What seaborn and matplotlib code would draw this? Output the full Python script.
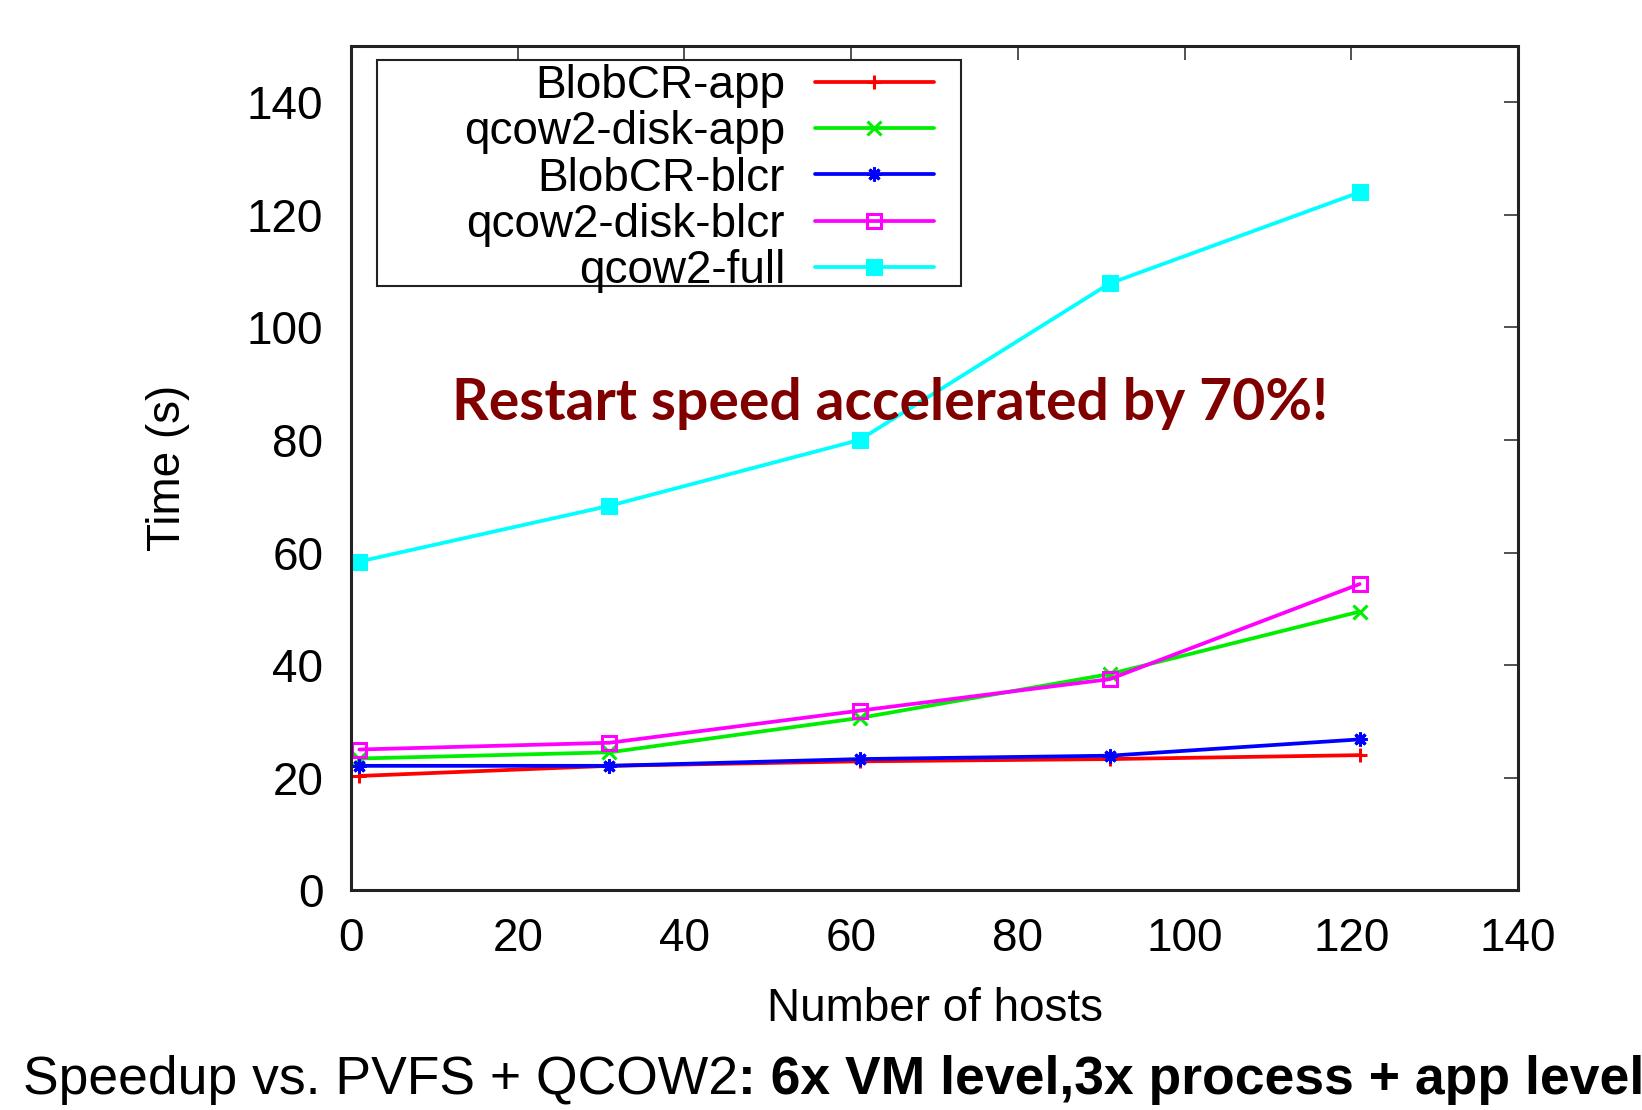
import matplotlib
matplotlib.use("Agg")
import matplotlib.pyplot as plt
from matplotlib.patches import Rectangle
import seaborn as sns

sns.set_style("white")
plt.rcParams['font.family'] = ['Liberation Sans', 'DejaVu Sans']
plt.rcParams['text.color'] = 'black'
plt.rcParams['axes.labelcolor'] = 'black'
plt.rcParams['xtick.color'] = 'black'
plt.rcParams['ytick.color'] = 'black'

hosts = [1, 31, 61, 91, 121]
blobcr_app = [20.3, 22.1, 22.9, 23.3, 24.0]
qcow2_disk_app = [23.4, 24.5, 30.6, 38.4, 49.5]
blobcr_blcr = [22.1, 22.1, 23.3, 23.9, 26.8]
qcow2_disk_blcr = [25.0, 26.2, 31.9, 37.5, 54.4]
qcow2_full = [58.4, 68.3, 80.0, 107.8, 124.0]

series = [
    ("BlobCR-app", blobcr_app, "#ff0000", "+", "#ff0000"),
    ("qcow2-disk-app", qcow2_disk_app, "#00ee00", "x", "#00ee00"),
    ("BlobCR-blcr", blobcr_blcr, "#0000ff", (8, 2, 0), "#0000ff"),
    ("qcow2-disk-blcr", qcow2_disk_blcr, "#ff00ff", "s", "none"),
    ("qcow2-full", qcow2_full, "#00ffff", "s", "#00ffff"),
]

fig = plt.figure(figsize=(16.42, 11.10), dpi=100)
ax = fig.add_axes([0.2138, 0.198, 0.7107, 0.7606])

for name, vals, col, mk, fc in series:
    sns.lineplot(x=hosts, y=vals, ax=ax, color=col, linewidth=2.7, marker=mk,
                 markersize=10, markerfacecolor=fc, markeredgecolor=col,
                 markeredgewidth=2.2, label=name, legend=False)

ax.set_xlim(0, 140)
ax.set_ylim(0, 150)
ax.set_xticks(range(0, 141, 20))
ax.set_yticks(range(0, 141, 20))
ax.tick_params(direction='in', top=True, right=True, length=10, width=1.2,
               labelsize=33, color='#333333')
ax.tick_params(axis='x', pad=19)
ax.tick_params(axis='y', pad=20)
for s in ax.spines.values():
    s.set_color('#222222')
    s.set_linewidth(2.2)

ax.set_xlabel("Number of hosts", fontsize=33)
ax.set_ylabel("Time (s)", fontsize=33)
ax.xaxis.set_label_coords(0.5, -0.115)
ax.yaxis.set_label_coords(-0.138, 0.5)

# legend box drawn separately (gnuplot style: wide frame, right-aligned keys)
ax.add_patch(Rectangle((0.0223, 0.7156), 0.5004, 0.2678, transform=ax.transAxes,
                       facecolor='white', edgecolor='#222222', linewidth=1.5,
                       zorder=4))
leg = ax.legend(loc='upper right', bbox_to_anchor=(0.4996, 0.9787), fontsize=33,
                markerfirst=False, frameon=False, handlelength=2.6,
                handletextpad=0.65, labelspacing=0.05, borderpad=0,
                borderaxespad=0)
leg.set_zorder(5)

ax.text(0.462, 0.577, "Restart speed accelerated by 70%!", transform=ax.transAxes,
        ha='center', va='center', fontsize=41, fontweight='bold',
        color='#800000', family=['Lato', 'DejaVu Sans'])

t1 = fig.text(23 / 1642, 16 / 1110, "Speedup vs. PVFS + QCOW2", fontsize=38.5,
              ha='left', va='baseline')
fig.canvas.draw()
bb = t1.get_window_extent()
fig.text(bb.x1 / 1642, 16 / 1110, ": 6x VM level,3x process + app level",
         fontsize=38.5, fontweight='bold', ha='left', va='baseline')

fig.savefig("out.png", dpi=100)
